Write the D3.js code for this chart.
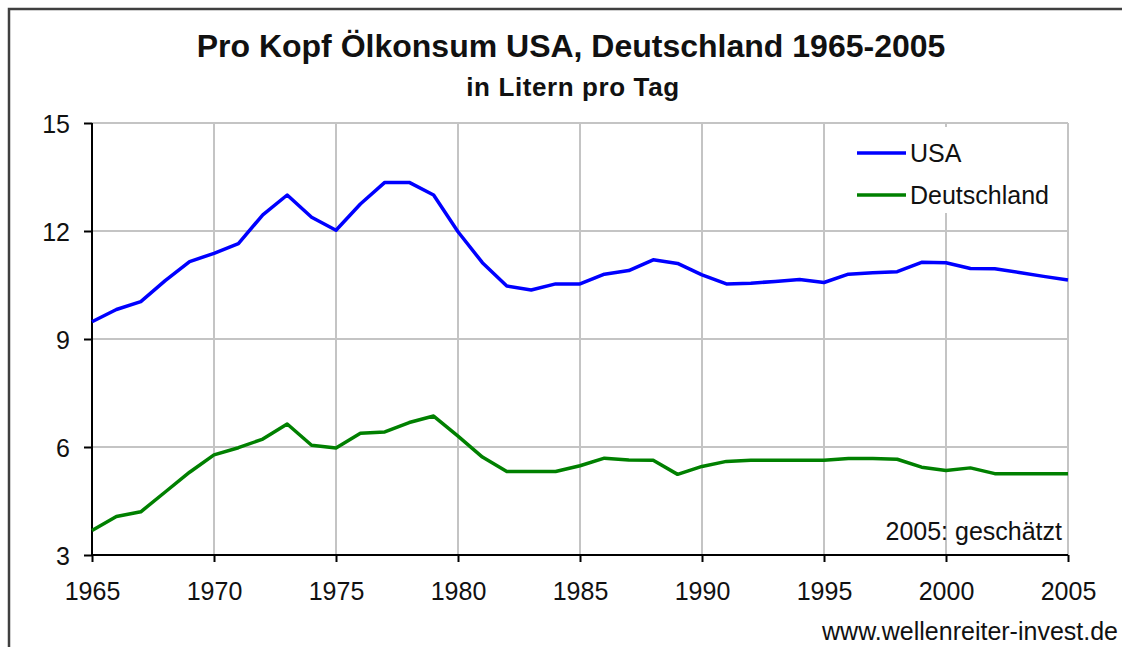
<!DOCTYPE html>
<html>
<head>
<meta charset="utf-8">
<script src="https://cdn.jsdelivr.net/npm/d3@7"></script>
<style>
    body { margin: 0; background: #fff; }
    text { font-family: "Liberation Sans", Arial, sans-serif; fill: #111; }
    .title { font-weight: bold; }
</style>
</head>
<body>
<div id="chart"></div>
<script>
// Pro-Kopf-Ölkonsum, Liter pro Tag
const years = d3.range(1965, 2006);
const usa = [9.48, 9.82, 10.04, 10.62, 11.15, 11.38, 11.65, 12.45, 13.0, 12.38, 12.02,
    12.75, 13.35, 13.35, 13.0, 11.98, 11.12, 10.47, 10.36, 10.53, 10.53,
    10.8, 10.9, 11.2, 11.1, 10.78, 10.53, 10.55, 10.6, 10.65, 10.57,
    10.8, 10.84, 10.87, 11.13, 11.12, 10.96, 10.95, 10.85, 10.74, 10.64];
const deutschland = [3.68, 4.07, 4.2, 4.75, 5.3, 5.78, 5.98, 6.22, 6.64, 6.05, 5.97,
    6.38, 6.42, 6.68, 6.86, 6.3, 5.72, 5.32, 5.32, 5.32, 5.48,
    5.69, 5.64, 5.63, 5.24, 5.46, 5.6, 5.63, 5.63, 5.63, 5.63,
    5.68, 5.68, 5.66, 5.44, 5.35, 5.42, 5.26, 5.26, 5.26, 5.26];
const seriesNames = ["USA", "Deutschland"];
const seriesColors = ["#0000ff", "#008000"];
const xTicks = [1965, 1970, 1975, 1980, 1985, 1990, 1995, 2000, 2005];
const yTicks = [3, 6, 9, 12, 15];

const width = 1122, height = 647;
const margin = { left: 92, right: 54, top: 123, bottom: 92 };

const svg = d3.select("#chart").append("svg")
    .attr("width", width)
    .attr("height", height);

const x = d3.scaleLinear().domain([1965, 2005]).range([margin.left, width - margin.right]);
const y = d3.scaleLinear().domain([3, 15]).range([height - margin.bottom, margin.top]);

// outer frame (cut off at right and bottom)
svg.append("path")
    .attr("d", "M9," + height + "V9H" + width)
    .attr("fill", "none")
    .attr("stroke", "#404040")
    .attr("stroke-width", 2.5);

// titles
svg.append("text")
    .attr("class", "title")
    .attr("x", 571).attr("y", 57)
    .attr("text-anchor", "middle")
    .style("font-size", "32px")
    .text("Pro Kopf Ölkonsum USA, Deutschland 1965-2005");

svg.append("text")
    .attr("class", "title")
    .attr("x", 573).attr("y", 96)
    .attr("text-anchor", "middle")
    .style("font-size", "26px")
    .style("letter-spacing", "0.6px")
    .text("in Litern pro Tag");

// grid
const grid = svg.append("g");
grid.selectAll(".gx").data(xTicks.slice(1)).join("line")
    .attr("x1", d => x(d)).attr("x2", d => x(d))
    .attr("y1", y(3)).attr("y2", y(15))
    .attr("stroke", "#c4c4c4").attr("stroke-width", 2);
grid.selectAll(".gy").data(yTicks.slice(1)).join("line")
    .attr("x1", x(1965)).attr("x2", x(2005))
    .attr("y1", d => y(d)).attr("y2", d => y(d))
    .attr("stroke", "#c4c4c4").attr("stroke-width", 2);

// legend background hides grid behind it
svg.append("rect")
    .attr("x", 845).attr("y", 127)
    .attr("width", 220).attr("height", 86)
    .attr("fill", "#fff");

// axes
const xAxis = d3.axisBottom(x).tickValues(xTicks).tickFormat(d3.format("d")).tickSize(7).tickPadding(20);
const yAxis = d3.axisLeft(y).tickValues(yTicks).tickSize(8).tickPadding(14);

const gx = svg.append("g")
    .attr("transform", "translate(0," + y(3) + ")")
    .call(xAxis);
const gy = svg.append("g")
    .attr("transform", "translate(" + x(1965) + ",0)")
    .call(yAxis);

[gx, gy].forEach(g => {
    g.select(".domain").attr("stroke", "#000").attr("stroke-width", 2);
    g.selectAll(".tick line").attr("stroke", "#000").attr("stroke-width", 2);
    g.selectAll(".tick text")
        .style("font-family", "'Liberation Sans', Arial, sans-serif")
        .style("font-size", "25px")
        .attr("fill", "#111");
});
gx.select(".domain").attr("d", "M" + x(1965) + ",0H" + x(2005));
gy.select(".domain").attr("d", "M0," + y(3) + "V" + y(15));
gy.selectAll(".tick text").attr("dy", "0.36em");

// lines
const line = d3.line()
    .x((d, i) => x(years[i]))
    .y(d => y(d));

[usa, deutschland].forEach((vals, i) => {
    svg.append("path")
        .datum(vals)
        .attr("d", line)
        .attr("fill", "none")
        .attr("stroke", seriesColors[i])
        .attr("stroke-width", 3.5)
        .attr("stroke-linejoin", "round");
});

// legend
const legend = svg.append("g");
seriesNames.forEach((name, i) => {
    const ly = 153 + i * 42;
    legend.append("line")
        .attr("x1", 857).attr("x2", 906)
        .attr("y1", ly).attr("y2", ly)
        .attr("stroke", seriesColors[i])
        .attr("stroke-width", 3.5);
    legend.append("text")
        .attr("x", 910).attr("y", ly + 9)
        .style("font-size", "25px")
        .text(name);
});

// notes
svg.append("text")
    .attr("x", 1062).attr("y", 540)
    .attr("text-anchor", "end")
    .style("font-size", "25px")
    .text("2005: geschätzt");

svg.append("text")
    .attr("x", 1118).attr("y", 640)
    .attr("text-anchor", "end")
    .style("font-size", "25px")
    .text("www.wellenreiter-invest.de");
</script>
</body>
</html>
